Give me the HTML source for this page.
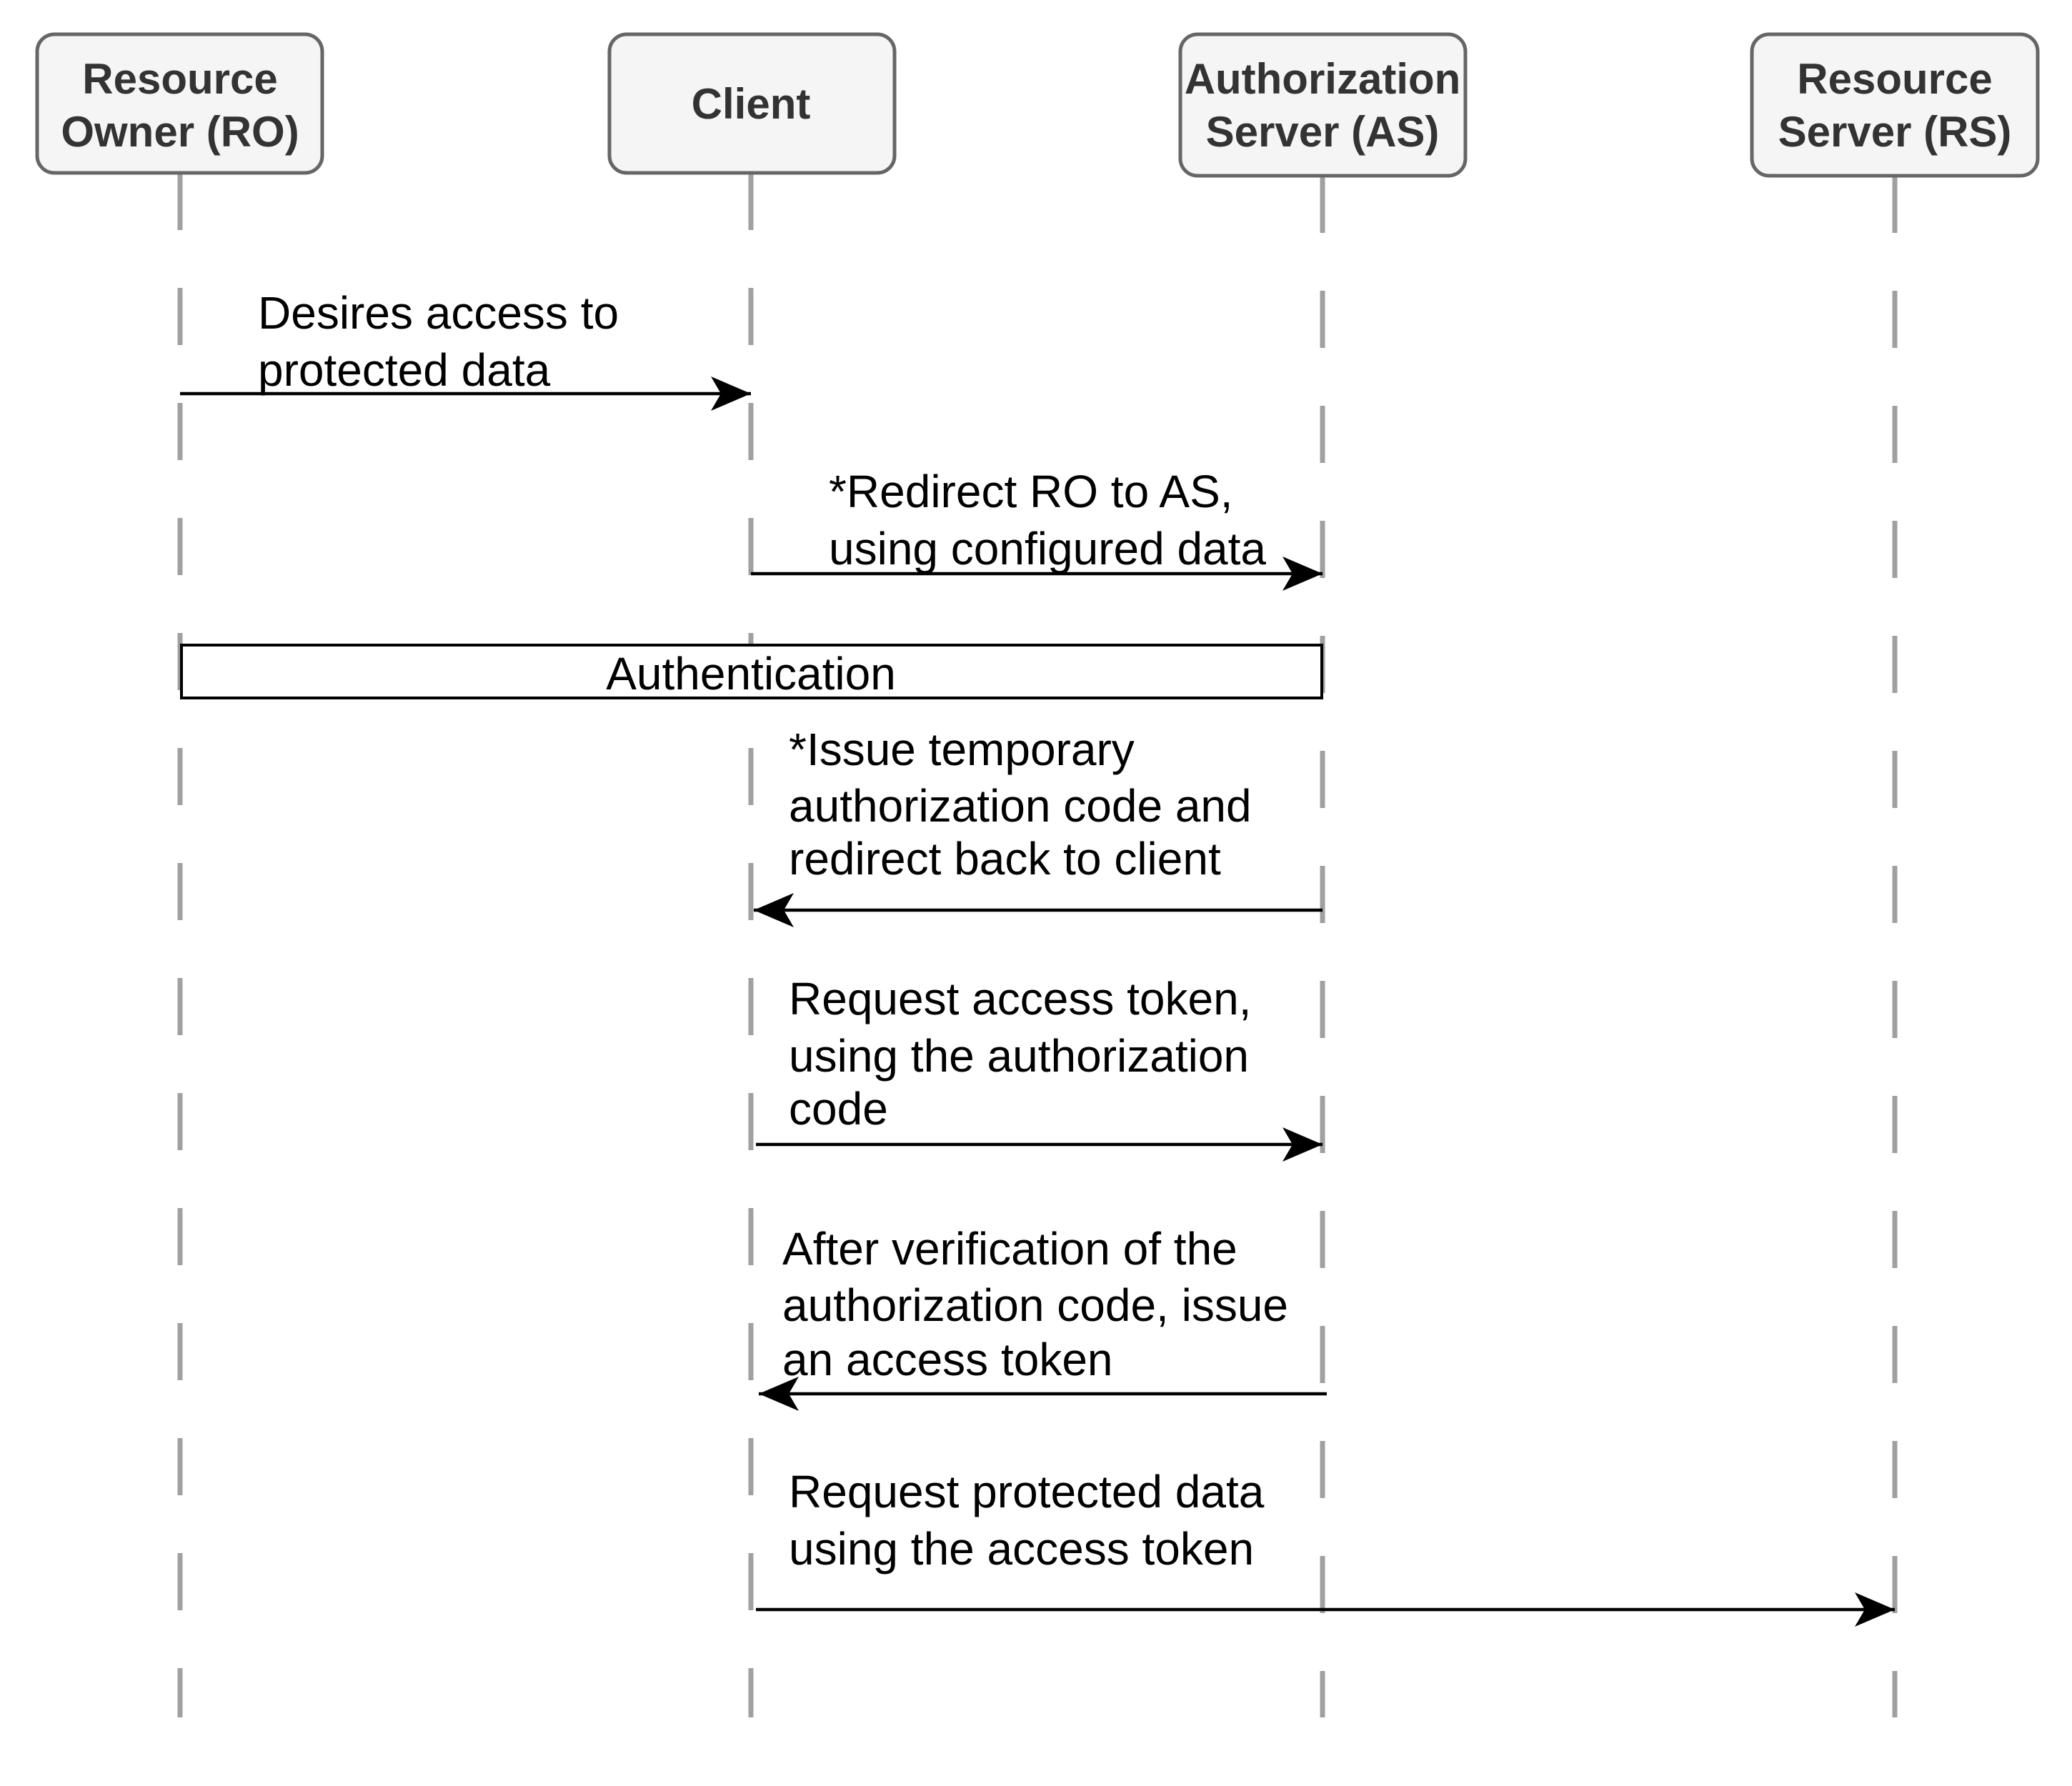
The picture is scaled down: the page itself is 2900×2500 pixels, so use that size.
<!DOCTYPE html>
<html><head><meta charset="utf-8"><style>
html,body{margin:0;padding:0;background:#fff;}
svg{display:block;}
.h{font-family:"Liberation Sans",Arial,sans-serif;font-weight:bold;font-size:60px;fill:#333;text-anchor:middle;}
.t{font-family:"Liberation Sans",Arial,sans-serif;font-size:64px;fill:#000;}
</style></head><body>
<svg width="2900" height="2500" viewBox="0 0 2900 2500" xmlns="http://www.w3.org/2000/svg">
<defs>
<marker id="a" markerUnits="userSpaceOnUse" markerWidth="60" markerHeight="60" viewBox="0 0 60 60" refX="56" refY="30" orient="auto">
<path d="M0,6 L56,30 L0,54 L14,30 Z" fill="#000"/>
</marker>
</defs>
<g stroke="#a0a0a0" stroke-width="7" stroke-dasharray="80 81">
<line x1="252" y1="242" x2="252" y2="2404"/>
<line x1="1051" y1="242" x2="1051" y2="2404"/>
<line x1="1851" y1="246" x2="1851" y2="2404"/>
<line x1="2652" y1="246" x2="2652" y2="2404"/>
</g>
<g fill="#f5f5f5" stroke="#666" stroke-width="5">
<rect x="52" y="48" width="399" height="194" rx="24"/>
<rect x="853" y="48" width="399" height="194" rx="24"/>
<rect x="1652" y="48" width="399" height="198" rx="24"/>
<rect x="2452" y="48" width="400" height="198" rx="24"/>
</g>
<text class="h" x="252" y="131">Resource</text>
<text class="h" x="252" y="205">Owner (RO)</text>
<text class="h" x="1051" y="166">Client</text>
<text class="h" x="1851" y="131">Authorization</text>
<text class="h" x="1851" y="205">Server (AS)</text>
<text class="h" x="2652" y="131">Resource</text>
<text class="h" x="2652" y="205">Server (RS)</text>

<g stroke="#000" stroke-width="4.5" marker-end="url(#a)">
<line x1="252" y1="551" x2="1051" y2="551"/>
<line x1="1051" y1="803" x2="1851" y2="803"/>
<line x1="1851" y1="1274" x2="1055" y2="1274"/>
<line x1="1058" y1="1602" x2="1851" y2="1602"/>
<line x1="1857" y1="1951" x2="1062" y2="1951"/>
<line x1="1058" y1="2253" x2="2652" y2="2253"/>
</g>
<rect x="254" y="903" width="1596" height="74" fill="#fff" stroke="#000" stroke-width="4"/>
<text class="t" x="1051" y="965" text-anchor="middle">Authentication</text>

<text class="t" x="361" y="460">Desires access to</text>
<text class="t" x="361" y="540">protected data</text>
<text class="t" x="1160" y="710">*Redirect RO to AS,</text>
<text class="t" x="1160" y="790">using configured data</text>
<text class="t" x="1104" y="1071">*Issue temporary</text>
<text class="t" x="1104" y="1150">authorization code and</text>
<text class="t" x="1104" y="1224">redirect back to client</text>
<text class="t" x="1104" y="1420">Request access token,</text>
<text class="t" x="1104" y="1500">using the authorization</text>
<text class="t" x="1104" y="1574">code</text>
<text class="t" x="1095" y="1770">After verification of the</text>
<text class="t" x="1095" y="1849">authorization code, issue</text>
<text class="t" x="1095" y="1925">an access token</text>
<text class="t" x="1104" y="2110">Request protected data</text>
<text class="t" x="1104" y="2190">using the access token</text>
</svg>
</body></html>
